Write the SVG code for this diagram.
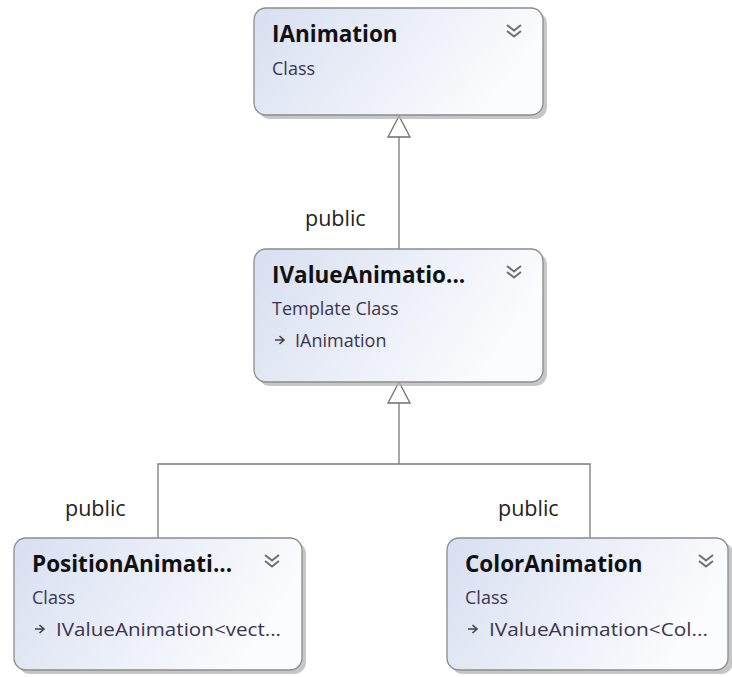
<svg xmlns="http://www.w3.org/2000/svg" width="732" height="677" viewBox="0 0 732 677">
  <defs>
    <linearGradient id="nodeFill" x1="0" y1="0" x2="1" y2="0.3">
      <stop offset="0" stop-color="#d8dff1"/>
      <stop offset="1" stop-color="#fbfcfe"/>
    </linearGradient>
    <!-- small "inherits from" arrow icon -->
    <path id="baseIcon" d="M0 0 H8 M4.5 -4 L9 0 L4.5 4" fill="none" stroke="#444" stroke-width="1.6"/>
    <!-- expand/collapse double chevron -->
    <path id="chevron" d="M0 0 l7 5.5 l7 -5.5 M0 6 l7 5.5 l7 -5.5" fill="none" stroke="#707070" stroke-width="2"/>
  </defs>
  <style>
    .shadow { fill: #b4b4b4; opacity: 0.75; }
    .box { fill: url(#nodeFill); stroke: #8c8c8c; stroke-width: 1.3; }
    .title { font-family: "Open Sans", "Noto Sans", sans-serif; font-weight: bold; font-size: 22.5px; fill: #111; }
    .kind { font-family: "Open Sans", "Noto Sans", sans-serif; font-size: 18px; fill: #3a3550; }
    .edge { fill: none; stroke: #7a7a7a; stroke-width: 1.3; }
    .head { fill: #fff; stroke: #6e6e6e; stroke-width: 1.3; }
    .lbl { font-family: "Open Sans", "Noto Sans", sans-serif; font-size: 21.5px; fill: #222; }
  </style>

  <rect width="732" height="677" fill="#fff"/>

  <!-- inheritance connectors -->
  <g id="connectors">
    <path class="edge" d="M399 249 V137"/>
    <polygon class="head" points="399,116 388,137 410,137"/>
    <path class="edge" d="M158 538 V464 H590 V538 M399 464 V403"/>
    <polygon class="head" points="399,382 388,403 410,403"/>
    <text class="lbl" x="305" y="226">public</text>
    <text class="lbl" x="65" y="516">public</text>
    <text class="lbl" x="498" y="516">public</text>
  </g>

  <g id="IAnimation">
    <rect class="shadow" x="258" y="12" width="289" height="107" rx="12"/>
    <rect class="box" x="254" y="8" width="289" height="107" rx="12"/>
    <text class="title" x="272" y="42">IAnimation</text>
    <text class="kind" x="272" y="75">Class</text>
    <use href="#chevron" x="507" y="25"/>
  </g>

  <g id="IValueAnimation">
    <rect class="shadow" x="258" y="253" width="289" height="133" rx="12"/>
    <rect class="box" x="254" y="249" width="289" height="133" rx="12"/>
    <text class="title" x="272" y="283">IValueAnimatio...</text>
    <text class="kind" x="272" y="315">Template Class</text>
    <use href="#baseIcon" x="275" y="340"/>
    <text class="kind" x="295" y="347">IAnimation</text>
    <use href="#chevron" x="507" y="266"/>
  </g>

  <g id="PositionAnimation">
    <rect class="shadow" x="18" y="542" width="288" height="132" rx="12"/>
    <rect class="box" x="14" y="538" width="288" height="132" rx="12"/>
    <text class="title" x="32" y="572">PositionAnimati...</text>
    <text class="kind" x="32" y="604">Class</text>
    <use href="#baseIcon" x="35" y="629"/>
    <text class="kind" x="56" y="636" textLength="225" lengthAdjust="spacingAndGlyphs">IValueAnimation&lt;vect...</text>
    <use href="#chevron" x="265" y="555"/>
  </g>

  <g id="ColorAnimation">
    <rect class="shadow" x="451" y="542" width="282" height="132" rx="12"/>
    <rect class="box" x="447" y="538" width="281" height="132" rx="12"/>
    <text class="title" x="465" y="572">ColorAnimation</text>
    <text class="kind" x="465" y="604">Class</text>
    <use href="#baseIcon" x="468" y="629"/>
    <text class="kind" x="489" y="636" textLength="219" lengthAdjust="spacingAndGlyphs">IValueAnimation&lt;Col...</text>
    <use href="#chevron" x="699" y="555"/>
  </g>
</svg>
